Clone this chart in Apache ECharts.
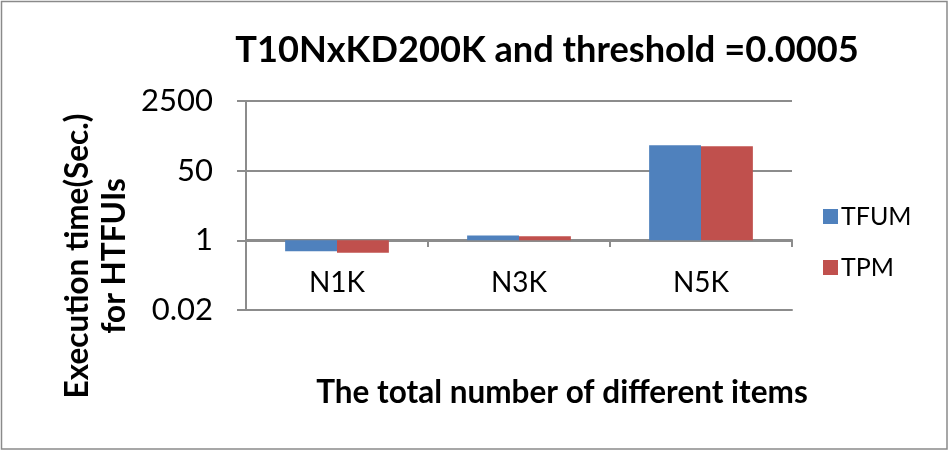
<!DOCTYPE html>
<html>
<head>
<meta charset="utf-8">
<script src="https://cdn.jsdelivr.net/npm/echarts@6/dist/echarts.min.js"></script>
<style>
html,body{margin:0;padding:0;background:#fff;}
#chart{width:949px;height:451px;}
</style>
</head>
<body>
<div id="chart"></div>
<script>
const categories = ['N1K', 'N3K', 'N5K'];
const tfum = [0.54, 1.32, 207];
const tpm = [0.50, 1.25, 196];
const yTickLabels = ['0.02', '1', '50', '2500'];
const titleText = 'T10NxKD200K and threshold =0.0005';
const yName = 'Execution time(Sec.)\nfor HTFUIs';
const xName = 'The total number of different items';

const FONT = 'Lato';
const GRID = '#8c8c8c';

function fmt(v) {
  for (const l of yTickLabels) {
    if (Math.abs(Math.log(v / parseFloat(l))) < 0.01) return l;
  }
  return '';
}

const chart = echarts.init(document.getElementById('chart'), null, {renderer: 'canvas'});
chart.setOption({
  animation: false,
  backgroundColor: '#fff',
  grid: {left: 246, right: 157, top: 101, bottom: 141, containLabel: false},
  legend: {
    orient: 'vertical',
    left: 818,
    top: 199,
    itemWidth: 15,
    itemHeight: 15,
    itemGap: 26,
    icon: 'rect',
    textStyle: {fontFamily: FONT, fontSize: 25, color: '#000', padding: [0, 0, 0, -2]},
    data: ['TFUM', 'TPM']
  },
  xAxis: [
    {
      type: 'category',
      data: categories,
      position: 'bottom',
      axisLine: {show: true, onZero: false, lineStyle: {color: GRID, width: 2}},
      axisTick: {show: false},
      axisLabel: {show: false}
    },
    {
      type: 'category',
      data: categories,
      position: 'top',
      offset: -139,
      axisLine: {show: true, onZero: false, lineStyle: {color: GRID, width: 2}},
      axisTick: {show: true, inside: true, length: 7, lineStyle: {color: GRID, width: 2}},
      axisLabel: {show: true, inside: true, margin: 29, fontFamily: FONT, fontSize: 28, color: '#000'}
    }
  ],
  yAxis: {
    type: 'log',
    logBase: 50,
    min: 0.02,
    max: 2500,
    interval: 1,
    axisLine: {show: true, lineStyle: {color: GRID, width: 2}},
    axisTick: {show: true, length: 9, lineStyle: {color: GRID, width: 2}},
    splitLine: {show: true, lineStyle: {color: GRID, width: 2}},
    axisLabel: {fontFamily: FONT, fontSize: 31, color: '#000', margin: 33, formatter: fmt}
  },
  series: [
    {name: 'TFUM', type: 'bar', xAxisIndex: 0, data: tfum, barWidth: '28.5%', barGap: '0%',
     itemStyle: {color: '#4F81BD'}},
    {name: 'TPM', type: 'bar', xAxisIndex: 0, data: tpm, barWidth: '28.5%', barGap: '0%',
     itemStyle: {color: '#C0504D'}}
  ],
  graphic: [
    {type: 'rect', shape: {x: 1.5, y: 1.5, width: 945.5, height: 447.5}, silent: true,
     style: {fill: 'none', stroke: '#8a8a8a', lineWidth: 1.5}},
    {type: 'text', x: 547, y: 50,
     style: {text: titleText, font: 'bold 36.2px ' + FONT, fill: '#000', textAlign: 'center', textVerticalAlign: 'middle'}},
    {type: 'text', x: 562, y: 393,
     style: {text: xName, font: 'bold 31.5px ' + FONT, fill: '#000', textAlign: 'center', textVerticalAlign: 'middle'}},
    {type: 'text', x: 96, y: 256, rotation: Math.PI / 2,
     style: {text: yName, font: 'bold 31.5px ' + FONT, fill: '#000', textAlign: 'center', textVerticalAlign: 'middle', lineHeight: 37}}
  ]
});
</script>
</body>
</html>
